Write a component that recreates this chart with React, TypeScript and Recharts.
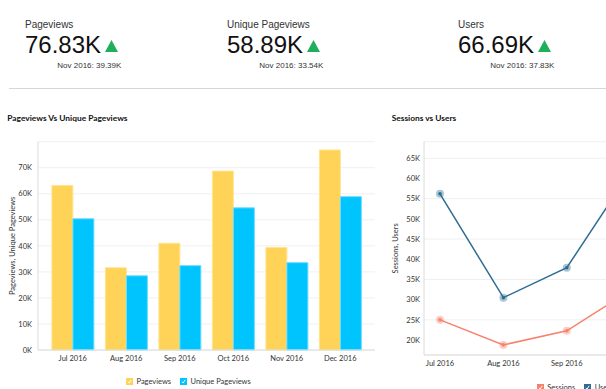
import React from "react";
import { BarChart, Bar, LineChart, Line, XAxis, YAxis, CartesianGrid, Legend } from "recharts";

// values
const months = ["Jul 2016", "Aug 2016", "Sep 2016", "Oct 2016", "Nov 2016", "Dec 2016"];
const pageviews = [63200, 31600, 41000, 68700, 39390, 76830];
const uniquePageviews = [50400, 28500, 32400, 54600, 33540, 58890];
const sessions = [25000, 18800, 22300, 32300, 24000, 36000];
const users = [56200, 30500, 37900, 61700, 37830, 66690];

const barTicks = [0, 10000, 20000, 30000, 40000, 50000, 60000, 70000];
const lineTicks = [20000, 25000, 30000, 35000, 40000, 45000, 50000, 55000, 60000, 65000];

const kpis = [
    { label: "Pageviews", value: "76.83K", prev: "Nov 2016: 39.39K", left: 25 },
    { label: "Unique Pageviews", value: "58.89K", prev: "Nov 2016: 33.54K", left: 227 },
    { label: "Users", value: "66.69K", prev: "Nov 2016: 37.83K", left: 458 },
];

const barData = months.map((m, i) => ({ month: m, pageviews: pageviews[i], uniquePageviews: uniquePageviews[i] }));
const lineData = months.map((m, i) => ({ month: m, sessions: sessions[i], users: users[i] }));

const kFormat = (v: number) => `${v / 1000}K`;
const tickStyle = { fontSize: 7.5, fill: "#333" };

const CheckLegend = (props: any) => {
    const { payload } = props;
    return (
        <div style={{ display: "flex", alignItems: "center", height: 16, fontSize: 7.5, color: "#333" }}>
            {(payload || []).map((p: any, i: number) => (
                <span key={i} style={{ display: "flex", alignItems: "center", marginRight: 9 }}>
                    <svg width={7} height={7}>
                        <rect width={7} height={7} fill={p.color} />
                        <path d="M2 3.8 L3.1 5 L5.2 1.8" stroke="#fff" strokeWidth={1} fill="none" />
                    </svg>
                    <span style={{ marginLeft: 3.5 }}>{p.value}</span>
                </span>
            ))}
        </div>
    );
};

const RingDot = (props: any) => {
    const { cx, cy, stroke } = props;
    if (cx == null || cy == null) return null;
    return (
        <g>
            <circle cx={cx} cy={cy} r={4} fill={stroke} fillOpacity={0.4} />
            <circle cx={cx} cy={cy} r={1.8} fill={stroke} />
        </g>
    );
};

const Kpi = ({ label, value, prev, left }: any) => (
    <div style={{ position: "absolute", left, top: 0, fontFamily: "'Liberation Sans', Arial, sans-serif", color: "#111" }}>
        <div style={{ position: "absolute", top: 20.4, fontSize: 10, lineHeight: "10px", whiteSpace: "nowrap", color: "#333" }}>{label}</div>
        <div style={{ position: "absolute", top: 33, fontSize: 24, lineHeight: "24px", whiteSpace: "nowrap" }}>
            {value}
            <svg width={13} height={12} style={{ marginLeft: 4, verticalAlign: 1 }}>
                <polygon points="6.5,0 13,12 0,12" fill="#1fae5a" />
            </svg>
        </div>
        <div style={{ position: "absolute", top: 62.3, left: 32.3, fontSize: 8, lineHeight: "8px", whiteSpace: "nowrap", color: "#333" }}>{prev}</div>
    </div>
);

const titleStyle: React.CSSProperties = {
    position: "absolute", top: 112.8, fontSize: 8.4, lineHeight: "10px", fontWeight: 700, color: "#111", whiteSpace: "nowrap",
};

export default function App() {
    return (
        <div style={{ position: "absolute", left: 0, top: 0, width: 606, height: 389, overflow: "hidden", background: "#fff", fontFamily: "Lato, sans-serif" }}>
            {kpis.map((k) => <Kpi key={k.label} {...k} />)}
            <div style={{ position: "absolute", left: 9, top: 87.5, width: 597, height: 1.5, background: "#d6d6d6" }} />

            <div style={{ ...titleStyle, left: 7.3 }}>Pageviews Vs Unique Pageviews</div>
            <div style={{ position: "absolute", left: 0, top: 100 }}>
                <BarChart width={380} height={289} data={barData} margin={{ top: 41.7, right: 5, bottom: 0, left: 0 }} barCategoryGap="11%" barGap={0}>
                    <CartesianGrid vertical={false} stroke="#f0f0f0" />
                    <XAxis dataKey="month" interval={0} tick={tickStyle} tickLine={false} tickSize={0} tickMargin={6}
                        axisLine={{ stroke: "#dcdcdc" }} padding={{ left: 8, right: 8 }} height={23} />
                    <YAxis domain={[0, 80000]} ticks={barTicks} tickFormatter={kFormat} tick={tickStyle} tickLine={false}
                        tickSize={0} tickMargin={6} width={38} axisLine={{ stroke: "#dcdcdc" }}
                        label={{ value: "Pageviews, Unique Pageviews", angle: -90, position: "insideLeft", offset: 12, style: { textAnchor: "middle", fontSize: 7.5, fill: "#333" } }} />
                    <Legend content={<CheckLegend />} verticalAlign="bottom" wrapperStyle={{ left: 126, width: "auto" }} />
                    <Bar dataKey="pageviews" name="Pageviews" fill="#fed357" stroke="#ffe591" strokeWidth={1} isAnimationActive={false} />
                    <Bar dataKey="uniquePageviews" name="Unique Pageviews" fill="#00c4fe" stroke="#6ddcff" strokeWidth={1} isAnimationActive={false} />
                </BarChart>
            </div>

            <div style={{ ...titleStyle, left: 391.7 }}>Sessions vs Users</div>
            <div style={{ position: "absolute", left: 380, top: 100 }}>
                <LineChart width={400} height={300} data={lineData} margin={{ top: 41.7, right: 7, bottom: 5, left: 0 }}>
                    <CartesianGrid vertical={false} stroke="#f0f0f0" />
                    <XAxis dataKey="month" interval={0} tick={tickStyle} tickLine={false} tickSize={0} tickMargin={6}
                        axisLine={{ stroke: "#dcdcdc" }} padding={{ left: 16, right: 16 }} height={24} />
                    <YAxis domain={[16300, 69100]} ticks={lineTicks} tickFormatter={kFormat} tick={tickStyle} tickLine={false}
                        tickSize={0} tickMargin={4} width={44} axisLine={{ stroke: "#dcdcdc" }}
                        label={{ value: "Sessions, Users", angle: -90, position: "insideLeft", offset: 15, style: { textAnchor: "middle", fontSize: 7.5, fill: "#333" } }} />
                    <Legend content={<CheckLegend />} verticalAlign="bottom" wrapperStyle={{ left: 156.7, width: "auto" }} />
                    <Line dataKey="sessions" name="Sessions" stroke="#f7826b" strokeWidth={1.5} dot={<RingDot />} activeDot={false} isAnimationActive={false} />
                    <Line dataKey="users" name="Users" stroke="#2d6d94" strokeWidth={1.5} dot={<RingDot />} activeDot={false} isAnimationActive={false} />
                </LineChart>
            </div>
        </div>
    );
}
